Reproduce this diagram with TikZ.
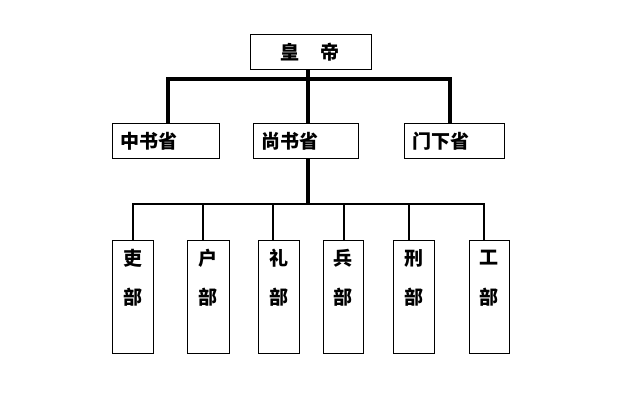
\documentclass[tikz,border=0pt]{standalone}
\usepackage{fontspec}
\newfontfamily\cjk{Noto Sans CJK SC}
\begin{document}
\begin{tikzpicture}[x=1pt,y=-1pt,
  box/.style={draw,line width=1pt},
  thick line/.style={line width=4pt},
  thin line/.style={line width=2pt},
  txt/.style={font=\cjk\bfseries\fontsize{19}{19}\selectfont,inner sep=0pt}]
\useasboundingbox (0,0) rectangle (640,410);
\draw[box] (250,34) rectangle (371,69);
\node[txt] (h1) at (290,52) {皇};
\node[txt] (h2) at (330,52) {帝};
\draw[box] (112,123) rectangle (219,158);
\draw[box] (253,123) rectangle (358,158);
\draw[box] (404,123) rectangle (504,158);
\node[txt,anchor=west] (z) at (120,141) {中书省};
\node[txt,anchor=west] (s) at (261,141) {尚书省};
\node[txt,anchor=west] (m) at (412,141) {门下省};
\draw[thick line] (308,69) -- (308,123);
\draw[thick line] (168,123) -- (168,79) -- (450,79) -- (450,123);
\draw[thick line] (308,158) -- (308,204);
\draw[thin line] (133,240) -- (133,204) -- (484,204) -- (484,240);
\foreach \l/\r/\t/\c/\n in {112/153/133/吏/a,187/229/203/户/b,258/299/273/礼/c,323/363/344/兵/d,393/434/409/刑/e,469/509/484/工/f}{
  \draw[box] (\l,240) rectangle (\r,353);
  \draw[thin line] (\t,204) -- (\t,240);
  \node[txt] (\n1) at ({(\l+\r)/2},258) {\c};
  \node[txt] (\n2) at ({(\l+\r)/2},297) {部};
}
\end{tikzpicture}
\end{document}
